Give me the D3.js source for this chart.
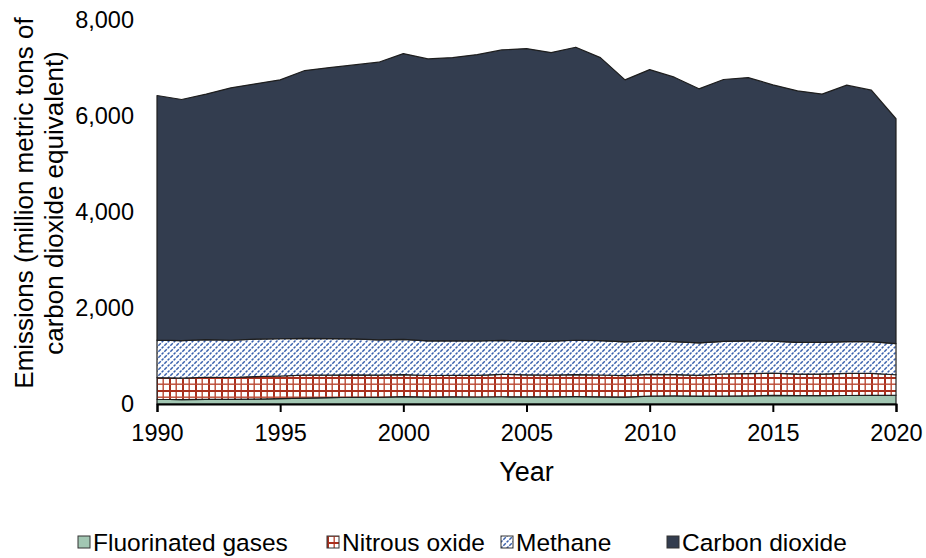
<!DOCTYPE html>
<html>
<head>
<meta charset="utf-8">
<script src="https://cdn.jsdelivr.net/npm/d3@7"></script>
<style>
  body { margin: 0; background: #fff; }
  text { font-family: "Liberation Sans", Arial, sans-serif; fill: #000; }
</style>
</head>
<body>
<div id="chart"></div>
<script>
// data (million metric tons CO2 equivalent)
const years = d3.range(1990, 2021);
const fluorinated = [99, 91, 95, 97, 100, 114, 124, 131, 141, 137, 154, 143, 149, 146, 151, 148,
    149, 153, 150, 145, 164, 169, 165, 164, 168, 178, 174, 176, 177, 180, 183];
const nitrous = [452, 446, 462, 455, 472, 469, 477, 469, 466, 464, 459, 451, 449, 450, 468, 458,
    452, 459, 454, 445, 454, 445, 431, 461, 465, 464, 450, 448, 459, 458, 426];
const methane = [779, 785, 784, 776, 780, 776, 768, 760, 748, 737, 732, 722, 718, 716, 708, 705,
    707, 716, 715, 705, 700, 687, 676, 680, 681, 669, 661, 661, 665, 660, 650];
const carbonDioxide = [5097, 5022, 5115, 5259, 5318, 5394, 5578, 5649, 5710, 5783, 5955, 5874, 5901, 5967, 6050, 6093,
    6013, 6105, 5898, 5458, 5649, 5508, 5294, 5455, 5487, 5338, 5240, 5171, 5342, 5241, 4684];

const seriesNames = ["Fluorinated gases", "Nitrous oxide", "Methane", "Carbon dioxide"];
const seriesKeys = ["fgas", "n2o", "ch4", "co2"];
const yTicks = [0, 2000, 4000, 6000, 8000];
const xTicks = [1990, 1995, 2000, 2005, 2010, 2015, 2020];

const width = 926, height = 558;

const table = years.map((y, i) => ({
    year: y,
    fgas: fluorinated[i],
    n2o: nitrous[i],
    ch4: methane[i],
    co2: carbonDioxide[i]
}));

const svg = d3.select("#chart")
    .append("svg")
    .attr("width", width)
    .attr("height", height);

// fill patterns
const defs = svg.append("defs");

// nitrous oxide: red grid
const grid = defs.append("pattern")
    .attr("id", "pat-n2o")
    .attr("patternUnits", "userSpaceOnUse")
    .attr("width", 13).attr("height", 13);
grid.append("rect").attr("width", 13).attr("height", 13).attr("fill", "#fff");
grid.append("rect").attr("x", 0).attr("y", 0).attr("width", 2).attr("height", 13).attr("fill", "#a9301e");
grid.append("rect").attr("x", 6.5).attr("y", 0).attr("width", 1.4).attr("height", 13).attr("fill", "#bb4a35");
grid.append("rect").attr("x", 0).attr("y", 0).attr("width", 13).attr("height", 2).attr("fill", "#a9301e");
grid.append("rect").attr("x", 0).attr("y", 6.5).attr("width", 13).attr("height", 1.4).attr("fill", "#bb4a35");

// methane: blue dashed diagonals
const diag = defs.append("pattern")
    .attr("id", "pat-ch4")
    .attr("patternUnits", "userSpaceOnUse")
    .attr("width", 6).attr("height", 6);
diag.append("rect").attr("width", 6).attr("height", 6).attr("fill", "#fff");
diag.append("path")
    .attr("d", "M-1,7 L7,-1 M-1,1 L1,-1 M5,7 L7,5")
    .attr("stroke", "#3a61ad")
    .attr("stroke-width", 1.5)
    .attr("stroke-dasharray", "3.5 1.2");

const fills = {
    fgas: "#a2c7b3",
    n2o: "url(#pat-n2o)",
    ch4: "url(#pat-ch4)",
    co2: "#333d4f"
};

const x = d3.scaleLinear().domain([1990, 2020]).range([157, 896]);
const y = d3.scaleLinear().domain([0, 8000]).range([404, 20]);

const stack = d3.stack().keys(seriesKeys);
const layers = stack(table);

const area = d3.area()
    .x(d => x(d.data.year))
    .y0(d => y(d[0]))
    .y1(d => y(d[1]));

svg.append("g")
    .selectAll("path")
    .data(layers)
    .enter()
    .append("path")
    .attr("d", area)
    .attr("fill", d => fills[d.key])
    .attr("stroke", "#1e1e1e")
    .attr("stroke-width", 1.2)
    .attr("stroke-linejoin", "round");

// x axis
const xAxis = svg.append("g")
    .attr("transform", `translate(0,${y(0)})`)
    .call(d3.axisBottom(x).tickValues(xTicks).tickFormat(d3.format("d")).tickSize(8).tickPadding(12));
xAxis.select(".domain").attr("stroke", "#000").attr("stroke-width", 2);
xAxis.selectAll(".tick line").attr("stroke", "#000").attr("stroke-width", 2);
xAxis.selectAll("text")
    .style("font-family", "'Liberation Sans', Arial, sans-serif")
    .style("font-size", "23.5px")
    .attr("fill", "#000");

// y axis (labels only)
const yAxis = svg.append("g")
    .attr("transform", "translate(157,0)")
    .call(d3.axisLeft(y).tickValues(yTicks).tickFormat(d3.format(",")).tickSize(0).tickPadding(23));
yAxis.select(".domain").remove();
yAxis.selectAll("text")
    .style("font-family", "'Liberation Sans', Arial, sans-serif")
    .style("font-size", "23.5px")
    .attr("fill", "#000");

// axis titles
svg.append("text")
    .attr("x", (x(1990) + x(2020)) / 2)
    .attr("y", 481)
    .attr("text-anchor", "middle")
    .style("font-size", "27px")
    .text("Year");

const yTitle = svg.append("text")
    .attr("transform", "translate(33,203) rotate(-90)")
    .attr("text-anchor", "middle")
    .style("font-size", "26px");
yTitle.append("tspan").attr("x", 0).attr("y", 0).text("Emissions (million metric tons of");
yTitle.append("tspan").attr("x", 0).attr("y", 30).text("carbon dioxide equivalent)");

// legend
const legendX = [78, 327, 501, 667];
const legend = svg.append("g")
    .selectAll("g")
    .data(seriesKeys)
    .enter()
    .append("g")
    .attr("transform", (d, i) => `translate(${legendX[i]},542)`);

legend.append("rect")
    .attr("x", 0)
    .attr("y", -6)
    .attr("width", 12)
    .attr("height", 12)
    .attr("fill", d => fills[d])
    .attr("stroke", "#333")
    .attr("stroke-width", 1);

legend.append("text")
    .attr("x", 15)
    .attr("y", 0)
    .attr("dy", "0.35em")
    .style("font-size", "24.5px")
    .text((d, i) => seriesNames[i]);
</script>
</body>
</html>
